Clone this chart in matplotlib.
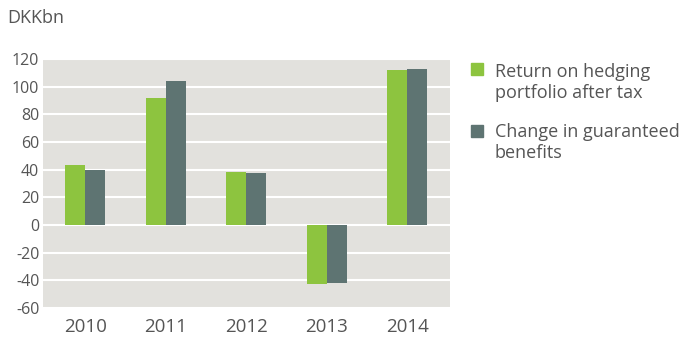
import matplotlib.pyplot as plt
import numpy as np

plt.rcParams['font.family'] = ['Open Sans', 'DejaVu Sans']

years = ['2010', '2011', '2012', '2013', '2014']
hedging = [43.5, 92, 38.5, -42.5, 112]
guaranteed = [40, 104, 37.5, -42, 113]
yticks = [-60, -40, -20, 0, 20, 40, 60, 80, 100, 120]

green = '#8dc43f'
slate = '#5e7472'
txt = '#555555'

fig = plt.figure(figsize=(6.9, 3.47), dpi=100)
ax = fig.add_axes([0.063, 0.112, 0.589, 0.718])
ax.set_facecolor('#e2e1dd')

x = np.arange(len(years))
w = 0.25
ax.bar(x - w / 2, hedging, w, color=green, zorder=3)
ax.bar(x + w / 2, guaranteed, w, color=slate, zorder=3)

ax.set_ylim(-60, 120)
ax.set_xlim(-0.52, 4.53)
ax.set_yticks(yticks)
ax.set_yticklabels([str(v) for v in yticks], fontsize=11.5, color=txt)
ax.set_xticks(x)
ax.set_xticklabels(years, fontsize=13.5, color=txt)
ax.tick_params(length=0, axis='y', pad=3)
ax.tick_params(length=0, axis='x', pad=7)
ax.grid(axis='y', color='white', linewidth=1.5, zorder=1)
for s in ax.spines.values():
    s.set_visible(False)

fig.text(0.011, 1 - 18 / 347, 'DKKbn', fontsize=13, color=txt, va='center')

# legend
fig.patches.append(plt.Rectangle((471 / 690, 1 - 75 / 347), 12 / 690, 12 / 347,
                                 transform=fig.transFigure, color=green))
fig.patches.append(plt.Rectangle((471 / 690, 1 - 137 / 347), 12 / 690, 12 / 347,
                                 transform=fig.transFigure, color=slate))
fig.text(495 / 690, 1 - 82.5 / 347, 'Return on hedging\nportfolio after tax',
         fontsize=13, color=txt, linespacing=1.2, va='center')
fig.text(495 / 690, 1 - 142.5 / 347, 'Change in guaranteed\nbenefits',
         fontsize=13, color=txt, linespacing=1.2, va='center')

fig.savefig('out.png', dpi=100)
